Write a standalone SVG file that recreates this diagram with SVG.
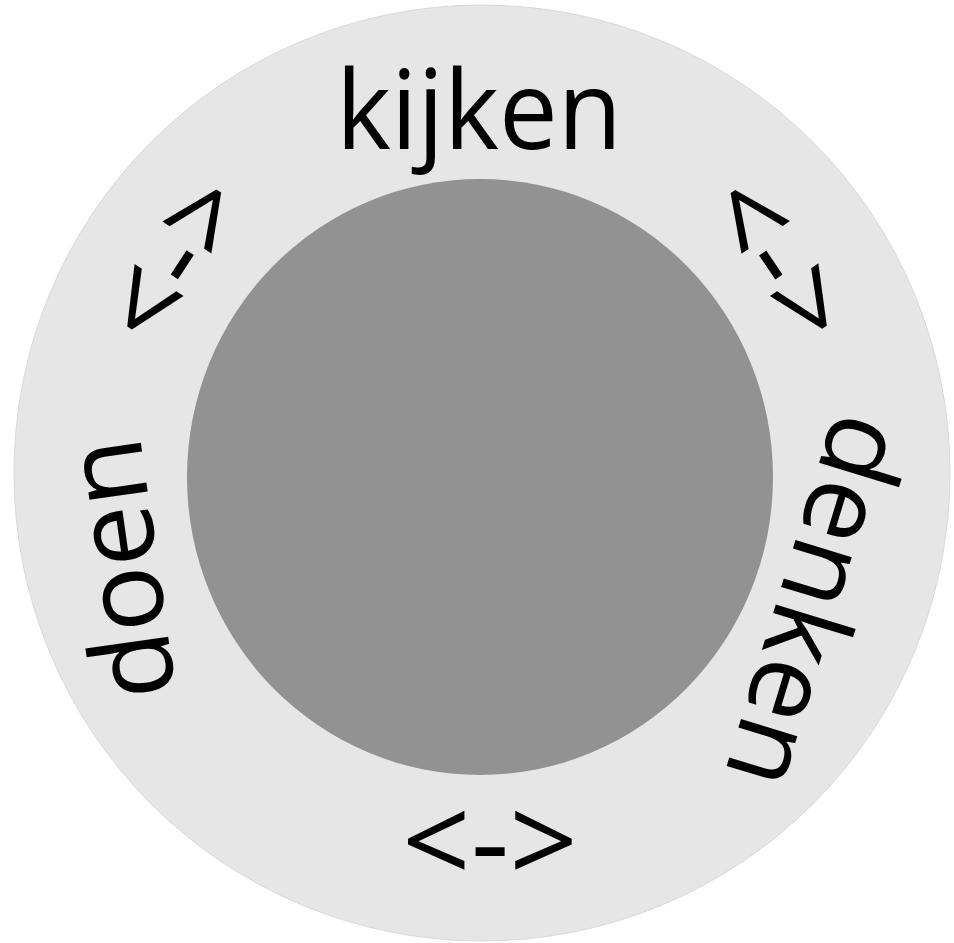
<svg xmlns="http://www.w3.org/2000/svg" width="954" height="943" viewBox="0 0 954 943">
<style>
.lbl{font-family:"Open Sans","Noto Sans","Liberation Sans",sans-serif;font-size:110px;fill:#000;text-anchor:middle}
.arr{font-family:"Open Sans","Noto Sans","Liberation Sans",sans-serif;font-size:120px;fill:#000;text-anchor:middle}
</style>
<rect width="954" height="943" fill="#fff"/>
<g id="ring">
<circle cx="482" cy="473" r="468" fill="#e6e6e6" stroke="#d9d9d9" stroke-width="1"/>
</g>
<g id="core">
<ellipse cx="480" cy="477" rx="293" ry="298" fill="#939293"/>
</g>
<g id="kijken"><text class="lbl" x="479" y="149" textLength="286" lengthAdjust="spacingAndGlyphs">kijken</text></g>
<g id="denken"><text class="lbl" transform="translate(780,591) rotate(107)">denken</text></g>
<g id="doen"><text class="lbl" transform="translate(158,564) rotate(-98)">doen</text></g>
<g id="connectors">
<text class="arr" x="490" y="884">&lt;-&gt;</text>
<text class="arr" transform="translate(778,260) rotate(56) translate(0,41)">&lt;-&gt;</text>
<text class="arr" transform="translate(175,260) rotate(-57) translate(0,41)">&lt;-&gt;</text>
</g>
</svg>
